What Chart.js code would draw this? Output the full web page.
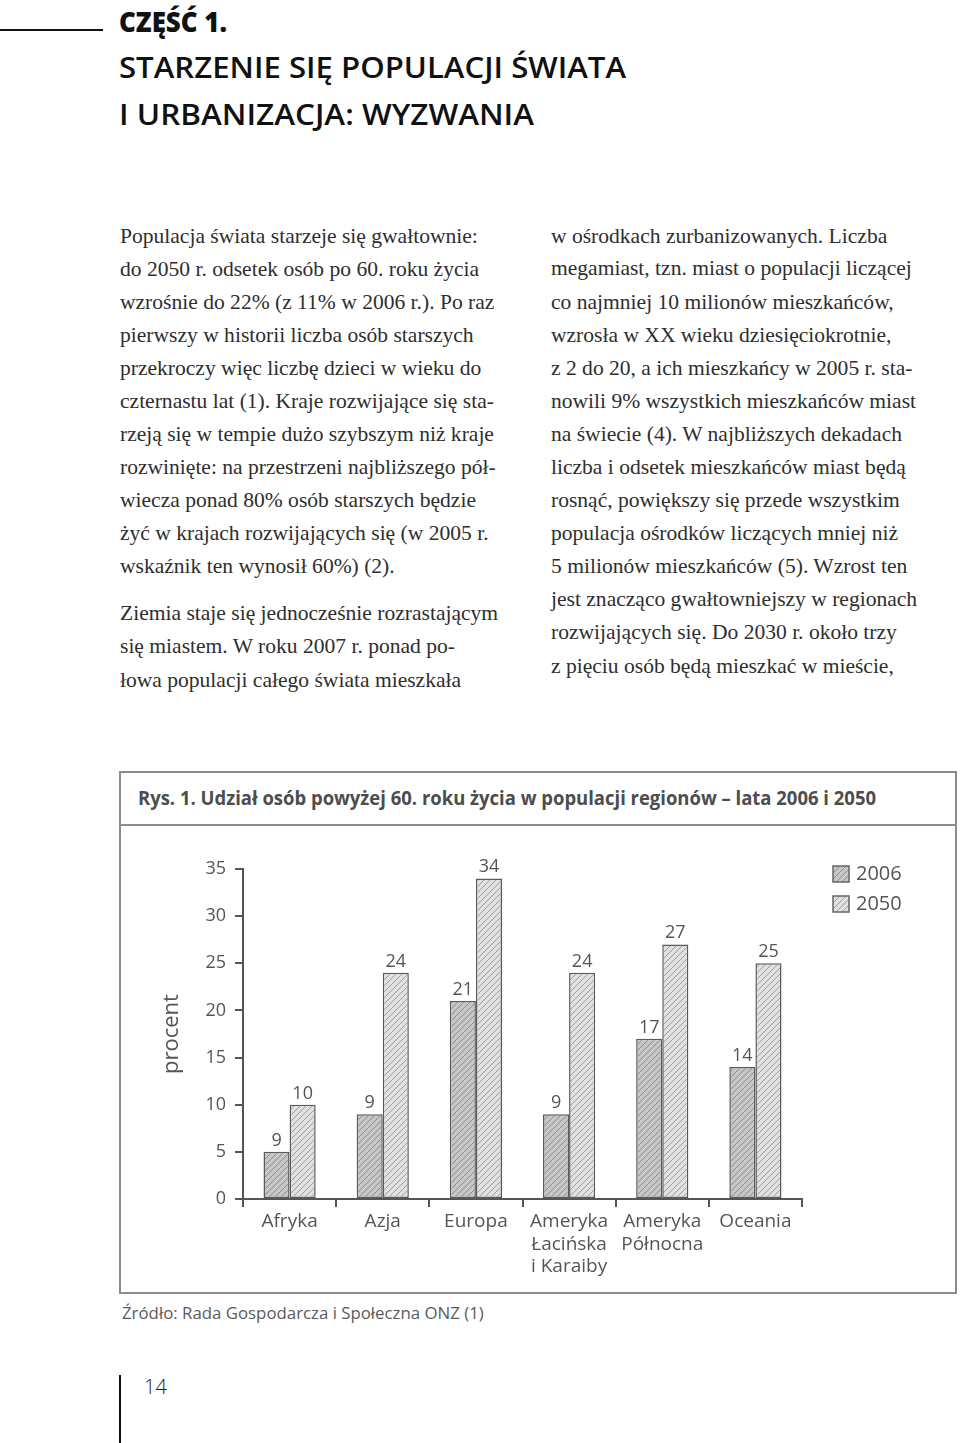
<!DOCTYPE html>
<html><head><meta charset="utf-8">
<script src="https://cdn.jsdelivr.net/npm/chart.js@4.4.0/dist/chart.umd.min.js"></script>
<style>
html,body{margin:0;padding:0;background:#fff;}
body{width:960px;height:1443px;position:relative;overflow:hidden;}
.ln{position:absolute;white-space:nowrap;display:inline-block;}
.bd{font-family:"Liberation Serif",serif;color:#2e2e2e;height:30px;line-height:30px;font-size:20px;}
.hd{font-family:"Open Sans",sans-serif;color:#111;height:44px;line-height:44px;font-size:29px;font-weight:600;}
#box{position:absolute;left:119px;top:771px;width:838px;height:523px;border:2px solid #8c8c8c;box-sizing:border-box;}
#sep{position:absolute;left:119px;top:824px;width:838px;height:2px;background:#8c8c8c;}
#title{font-family:"Open Sans",sans-serif;font-weight:700;color:#4d4d4d;font-size:20px;height:30px;line-height:30px;}
#src{font-family:"Open Sans",sans-serif;color:#5a5a5a;font-size:17px;height:26px;line-height:26px;}
#pg{font-family:"Open Sans",sans-serif;color:#222;font-size:20px;height:28px;line-height:28px;font-weight:300;}
#chartWrap{position:absolute;left:122px;top:828px;width:833px;height:463px;}
</style></head><body>
<div style="position:absolute;left:0;top:29px;width:103px;height:2px;background:#111;"></div>
<div style="position:absolute;left:119px;top:1375px;width:2px;height:68px;background:#111;"></div>
<div id="box"></div><div id="sep"></div>
<div id="chartWrap"><canvas id="c" width="833" height="463"></canvas></div>
<script>
// ---------- chart data ----------
const categories = [["Afryka"], ["Azja"], ["Europa"], ["Ameryka", "Łacińska", "i Karaiby"], ["Ameryka", "Północna"], ["Oceania"]];
const seriesNames = ["2006", "2050"];
const values2006 = [5, 9, 21, 9, 17, 14];
const values2050 = [10, 24, 34, 24, 27, 25];
const printed2006 = ["9", "9", "21", "9", "17", "14"];
const printed2050 = ["10", "24", "34", "24", "27", "25"];
const yTickMin = 0;
const yTickMax = 35;
const yTickStep = 5;

// ---------- page text ----------
const headLines = ["CZĘŚĆ 1.", "STARZENIE SIĘ POPULACJI ŚWIATA", "I URBANIZACJA: WYZWANIA"];
const leftLines = [
 "Populacja świata starzeje się gwałtownie:",
 "do 2050 r. odsetek osób po 60. roku życia",
 "wzrośnie do 22% (z 11% w 2006 r.). Po raz",
 "pierwszy w historii liczba osób starszych",
 "przekroczy więc liczbę dzieci w wieku do",
 "czternastu lat (1). Kraje rozwijające się sta-",
 "rzeją się w tempie dużo szybszym niż kraje",
 "rozwinięte: na przestrzeni najbliższego pół-",
 "wiecza ponad 80% osób starszych będzie",
 "żyć w krajach rozwijających się (w 2005 r.",
 "wskaźnik ten wynosił 60%) (2).",
 "Ziemia staje się jednocześnie rozrastającym",
 "się miastem. W roku 2007 r. ponad po-",
 "łowa populacji całego świata mieszkała"];
const rightLines = [
 "w ośrodkach zurbanizowanych. Liczba",
 "megamiast, tzn. miast o populacji liczącej",
 "co najmniej 10 milionów mieszkańców,",
 "wzrosła w XX wieku dziesięciokrotnie,",
 "z 2 do 20, a ich mieszkańcy w 2005 r. sta-",
 "nowili 9% wszystkich mieszkańców miast",
 "na świecie (4). W najbliższych dekadach",
 "liczba i odsetek mieszkańców miast będą",
 "rosnąć, powiększy się przede wszystkim",
 "populacja ośrodków liczących mniej niż",
 "5 milionów mieszkańców (5). Wzrost ten",
 "jest znacząco gwałtowniejszy w regionach",
 "rozwijających się. Do 2030 r. około trzy",
 "z pięciu osób będą mieszkać w mieście,"];
const chartTitle = "Rys. 1. Udział osób powyżej 60. roku życia w populacji regionów – lata 2006 i 2050";
const sourceText = "Źródło: Rada Gospodarcza i Społeczna ONZ (1)";
const pageNum = "14";

function addLine(cls, text, x, cy, h, id){
  const d = document.createElement('div');
  d.className = 'ln ' + cls; if (id) d.id = id;
  d.textContent = text;
  d.style.left = x + 'px'; d.style.top = (cy - h/2) + 'px';
  document.body.appendChild(d); return d;
}
function fitW(el, w){
  const r = el.getBoundingClientRect().width;
  const fs = parseFloat(getComputedStyle(el).fontSize);
  el.style.fontSize = (fs * w / r) + 'px';
  return fs * w / r;
}
function squeeze(el, w){
  const r = el.getBoundingClientRect().width;
  el.style.transformOrigin = '0 50%';
  el.style.transform = 'scaleX(' + (w / r) + ')';
}
const h0 = addLine('hd', headLines[0], 119, 21, 44); h0.style.fontWeight = 800; squeeze(h0, 108);
const h1 = addLine('hd', headLines[1], 119, 67, 44); squeeze(h1, 507);
const h2 = addLine('hd', headLines[2], 119, 114, 44); squeeze(h2, 415);

const leftY = [236,269,302,335,368,401,434,467,500,533,566,613,646,680];
const rightY = [236,268,302,335,368,401,434,467,500,533,566,599,632,666];
const lEls = leftLines.map((t,i)=>addLine('bd', t, 120, leftY[i], 30));
const rEls = rightLines.map((t,i)=>addLine('bd', t, 551, rightY[i], 30));
const bfs = fitW(lEls[0], 358);
lEls.concat(rEls).forEach(e=>e.style.fontSize = bfs + 'px');

const tEl = addLine('', chartTitle, 138, 798, 30, 'title'); squeeze(tEl, 738);
const sEl = addLine('', sourceText, 122, 1313, 26, 'src'); fitW(sEl, 362);
addLine('', pageNum, 144, 1387, 28, 'pg');

// ---------- chart ----------
function hatch(bg, line){
  const s = 6;
  const c = document.createElement('canvas'); c.width = c.height = s;
  const g = c.getContext('2d');
  g.fillStyle = bg; g.fillRect(0,0,s,s);
  g.strokeStyle = line; g.lineWidth = 1;
  g.beginPath();
  g.moveTo(0,s); g.lineTo(s,0);
  g.moveTo(-1,1); g.lineTo(1,-1);
  g.moveTo(s-1,s+1); g.lineTo(s+1,s-1);
  g.stroke();
  return g.createPattern(c,'repeat');
}
const ctx = document.getElementById('c').getContext('2d');
const fills = [hatch('#c6c6c6','#8e8e8e'), hatch('#e0e0e0','#a0a0a0')];
const printed = [printed2006, printed2050];
const AX = '#555555';
const FONT = '"Open Sans", sans-serif';

const valueLabels = {
  id:'valueLabels',
  afterDatasetsDraw(chart){
    const g = chart.ctx; g.save();
    g.font = '18px ' + FONT; g.fillStyle = AX; g.textAlign = 'center'; g.textBaseline = 'alphabetic';
    chart.data.datasets.forEach((ds, di)=>{
      chart.getDatasetMeta(di).data.forEach((bar, i)=>{
        g.fillText(printed[di][i], bar.x, bar.y - 6);
      });
    });
    g.restore();
  }
};
const boxLegend = {
  id:'boxLegend',
  afterDraw(chart){
    const g = chart.ctx; g.save();
    g.font = '20px ' + FONT; g.textBaseline = 'middle'; g.textAlign = 'left';
    chart.data.datasets.forEach((ds, di)=>{
      const x = 711, y = 38 + di*30;
      g.fillStyle = ds.backgroundColor; g.fillRect(x, y, 16, 16);
      g.strokeStyle = '#666'; g.lineWidth = 1.5; g.strokeRect(x, y, 16, 16);
      g.fillStyle = AX; g.fillText(ds.label, x + 23, y + 8);
    });
    g.restore();
  }
};

new Chart(ctx, {
  type:'bar',
  data:{
    labels: categories,
    datasets:[
      {label:seriesNames[0], data:values2006, backgroundColor:fills[0], borderColor:'#5a5a5a', borderWidth:1.5, borderSkipped:false},
      {label:seriesNames[1], data:values2050, backgroundColor:fills[1], borderColor:'#5a5a5a', borderWidth:1.5, borderSkipped:false}
    ]
  },
  options:{
    responsive:false, animation:false, devicePixelRatio:1,
    layout:{padding:{left:0, right:153, top:41, bottom:0}},
    datasets:{bar:{categoryPercentage:0.56, barPercentage:1}},
    plugins:{legend:{display:false}, tooltip:{enabled:false}},
    scales:{
      x:{
        grid:{display:true, drawOnChartArea:false, drawTicks:true, tickLength:8, color:AX, lineWidth:2, offset:true},
        border:{display:true, color:AX, width:2},
        ticks:{color:AX, font:{family:FONT, size:19, lineHeight:1.2}, padding:3, autoSkip:false, maxRotation:0},
        afterFit(s){ s.height = 92; }
      },
      y:{
        min:yTickMin, max:yTickMax,
        grid:{display:true, drawOnChartArea:false, drawTicks:true, tickLength:8, color:AX, lineWidth:2},
        border:{display:true, color:AX, width:2},
        ticks:{stepSize:yTickStep, color:AX, font:{family:FONT, size:18}, padding:9},
        title:{display:true, text:'procent', color:AX, font:{family:FONT, size:22}, padding:{top:37, bottom:0}},
        afterFit(s){ s.width = 121; }
      }
    }
  },
  plugins:[valueLabels, boxLegend]
});
</script>
</body></html>
